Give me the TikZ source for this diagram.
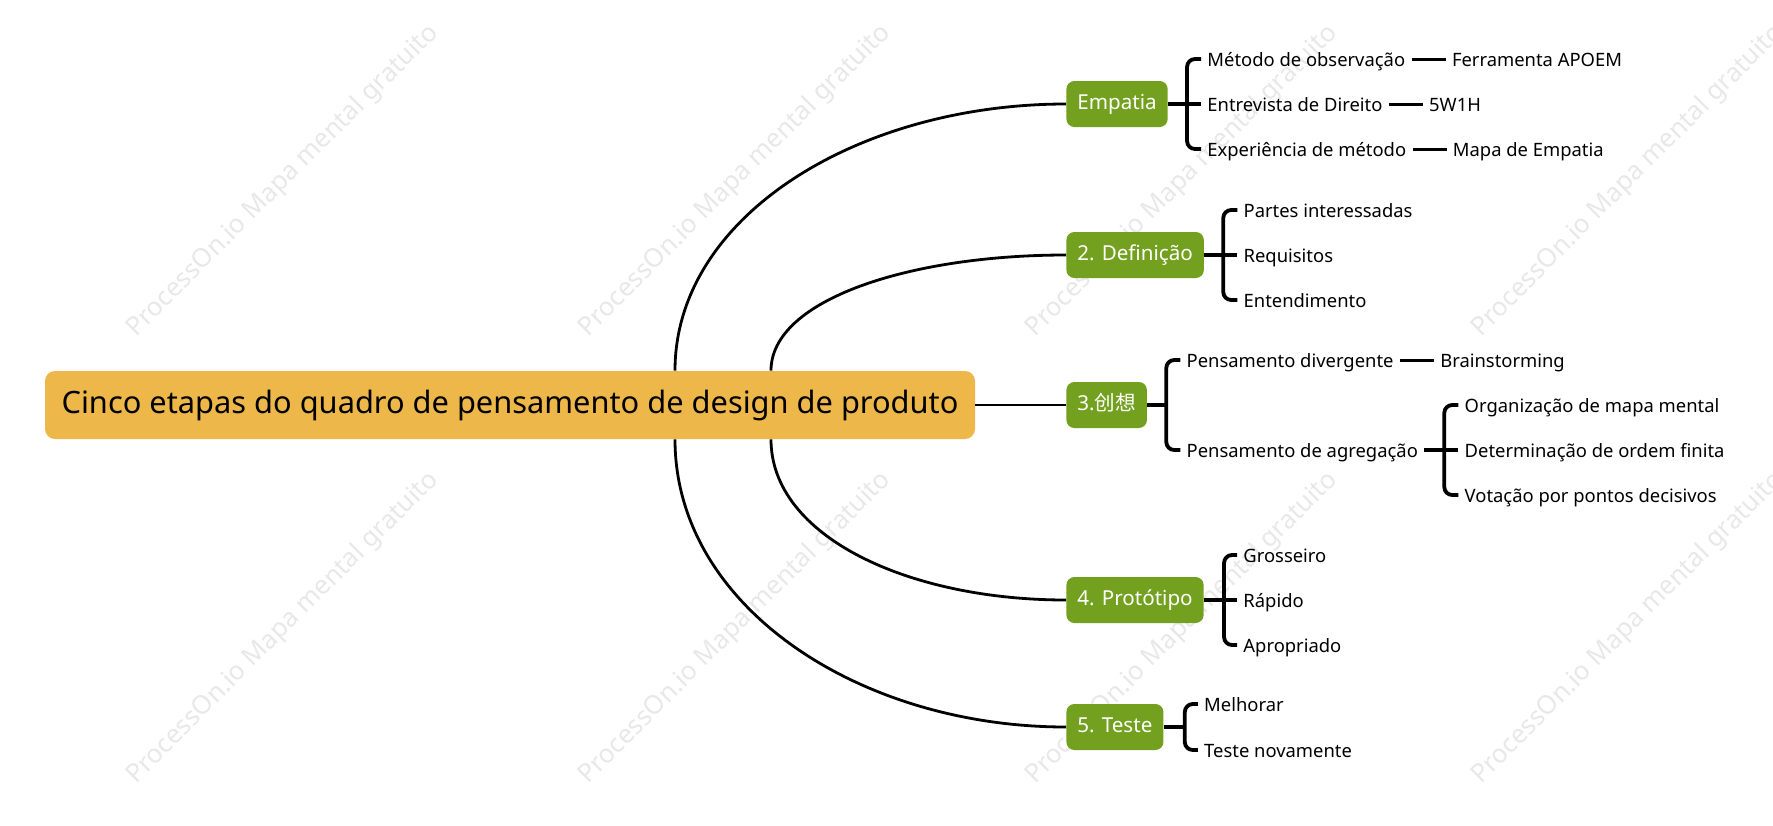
\documentclass[tikz,border=0pt]{standalone}
\usepackage{fontspec}
\setmainfont{Noto Sans}
\newfontfamily\cjk{Noto Sans CJK SC}
\usepackage{tikz}
\usetikzlibrary{positioning}
\definecolor{stagegreen}{HTML}{73A11F}
\definecolor{rootgold}{HTML}{EDB749}
\definecolor{markgray}{HTML}{E8E8E8}

\begin{document}
\begin{tikzpicture}[
    x=0.5pt, y=-0.5pt,
    every node/.style={inner xsep=3pt, inner ysep=2pt},
    rootbox/.style={fill=rootgold, rounded corners=5pt, minimum width=465pt, minimum height=34pt, font=\fontsize{15.4}{18}\selectfont},
    stage/.style={fill=stagegreen, text=white, rounded corners=4pt, minimum height=23pt, inner xsep=5.5pt, anchor=west, text height=7.6pt, text depth=2.3pt, font=\fontsize{10.3}{12}\selectfont},
    leaf/.style={anchor=west, text height=8.5pt, text depth=1.5pt, font=\fontsize{9.2}{11}\selectfont},
    wmark/.style={text=markgray, rotate=45, font=\fontsize{12.9}{15}\selectfont},
    trunk/.style={draw, line width=1.4pt},
    brace/.style={draw, line width=1.9pt, rounded corners=4pt},
    twig/.style={draw, line width=1.5pt}
]
\useasboundingbox (0,0) rectangle (1773,825);

\foreach \wx in {283,735,1182,1628}
    \foreach \wy in {181,628}
        \node[wmark] at (\wx,\wy) {ProcessOn.io Mapa mental gratuito};

\node[rootbox] (root) at (510,405) {Cinco etapas do quadro de pensamento de design de produto};

\node[stage] (empatia) at (1066,104) {Empatia};
\node[stage] (definicao) at (1066,255) {2. Definição};
\node[stage] (ideia) at (1066,405) {3.{\cjk 创想}};
\node[stage] (prototipo) at (1066,600) {4. Protótipo};
\node[stage] (teste) at (1066,727) {5. Teste};

\coordinate (outer) at (675,0);
\coordinate (inner) at (771,0);
\draw[trunk] (outer |- root.north) .. controls +(0,-155) and +(-207,0) .. (empatia.west);
\draw[trunk] (inner |- root.north) .. controls +(0,-71) and +(-156,0) .. (definicao.west);
\draw[trunk] (root.east) -- (ideia.west);
\draw[trunk] (inner |- root.south) .. controls +(0,97) and +(-158,0) .. (prototipo.west);
\draw[trunk] (outer |- root.south) .. controls +(0,167) and +(-207,0) .. (teste.west);

% Empatia
\node[leaf, right=16.5pt of empatia, yshift=22.5pt] (obs) {Método de observação};
\node[leaf, right=16.5pt of empatia] (entrev) {Entrevista de Direito};
\node[leaf, right=16.5pt of empatia, yshift=-22.5pt] (exper) {Experiência de método};
\node[leaf, right=17pt of obs] (apoem) {Ferramenta APOEM};
\node[leaf, right=17pt of entrev] (wh) {5W1H};
\node[leaf, right=17pt of exper] (mapa) {Mapa de Empatia};
\coordinate[right=9.5pt of empatia] (empatia-b);
\draw[brace] (empatia.east) -- (entrev.west);
\draw[brace] (obs.west) -| (empatia-b) |- (exper.west);
\draw[twig] (obs) -- (apoem);
\draw[twig] (entrev) -- (wh);
\draw[twig] (exper) -- (mapa);

% Definicao
\node[leaf, right=16.5pt of definicao, yshift=22.5pt] (partes) {Partes interessadas};
\node[leaf, right=16.5pt of definicao] (requis) {Requisitos};
\node[leaf, right=16.5pt of definicao, yshift=-22.5pt] (entend) {Entendimento};
\coordinate[right=9.5pt of definicao] (definicao-b);
\draw[brace] (definicao.east) -- (requis.west);
\draw[brace] (partes.west) -| (definicao-b) |- (entend.west);

% Ideia
\node[leaf, right=16.5pt of ideia, yshift=22.5pt] (diverg) {Pensamento divergente};
\node[leaf, right=16.5pt of ideia, yshift=-22.5pt] (agreg) {Pensamento de agregação};
\node[leaf, right=17pt of diverg] (brain) {Brainstorming};
\coordinate[right=9.5pt of ideia] (ideia-b);
\draw[brace] (ideia.east) -- (ideia-b);
\draw[brace] (diverg.west) -| (ideia-b) |- (agreg.west);
\draw[twig] (diverg) -- (brain);
\node[leaf, right=17pt of agreg, yshift=22.5pt] (organiz) {Organização de mapa mental};
\node[leaf, right=17pt of agreg] (determ) {Determinação de ordem finita};
\node[leaf, right=17pt of agreg, yshift=-22.5pt] (votacao) {Votação por pontos decisivos};
\coordinate[right=10pt of agreg] (agreg-b);
\draw[brace] (agreg.east) -- (determ.west);
\draw[brace] (organiz.west) -| (agreg-b) |- (votacao.west);

% Prototipo
\node[leaf, right=16.5pt of prototipo, yshift=22.5pt] (grosso) {Grosseiro};
\node[leaf, right=16.5pt of prototipo] (rapido) {Rápido};
\node[leaf, right=16.5pt of prototipo, yshift=-22.5pt] (aprop) {Apropriado};
\coordinate[right=10pt of prototipo] (prototipo-b);
\draw[brace] (prototipo.east) -- (rapido.west);
\draw[brace] (grosso.west) -| (prototipo-b) |- (aprop.west);

% Teste
\node[leaf, right=17pt of teste, yshift=11.5pt] (melhor) {Melhorar};
\node[leaf, right=17pt of teste, yshift=-11.5pt] (denovo) {Teste novamente};
\coordinate[right=10.5pt of teste] (teste-b);
\draw[brace] (teste.east) -- (teste-b);
\draw[brace] (melhor.west) -| (teste-b) |- (denovo.west);
\end{tikzpicture}
\end{document}
